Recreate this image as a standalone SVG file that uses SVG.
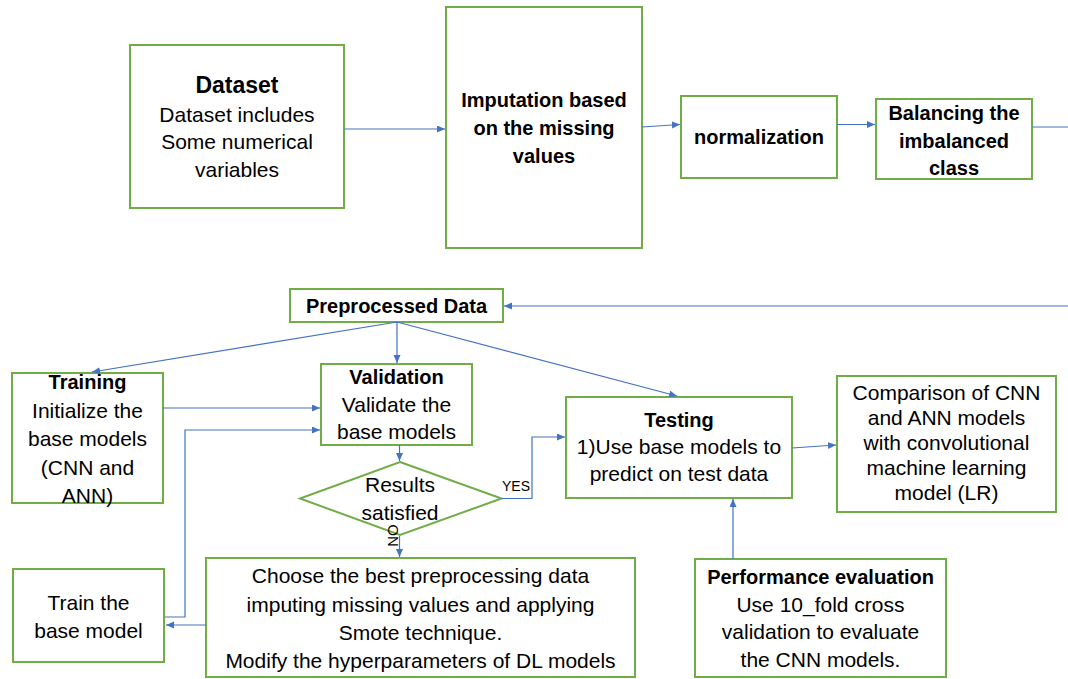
<svg xmlns="http://www.w3.org/2000/svg" width="1068" height="679" viewBox="0 0 1068 679">
<style>
.box{fill:#fff;stroke:#70AD47;stroke-width:2}
.t{font-family:"Liberation Sans",Arial,sans-serif;font-size:21px;fill:#000;text-anchor:middle}
.b{font-weight:bold;font-size:20px}
.c{fill:none;stroke:#4472C4;stroke-width:1.2}
.lbl{font-family:"Liberation Sans",Arial,sans-serif;font-size:14px;fill:#000;text-anchor:middle}
</style>
<defs>
<marker id="ah" markerWidth="9" markerHeight="8" refX="8" refY="3.5" orient="auto" markerUnits="userSpaceOnUse">
<path d="M0,0 L8,3.5 L0,7 z" fill="#4472C4"/>
</marker>
</defs>
<rect width="1068" height="679" fill="#fff"/>
<g id="dataset">
<rect class="box" x="130" y="45" width="214" height="163"/>
<text class="t b" x="237" y="93" style="font-size:23px">Dataset</text>
<text class="t" x="237" y="122">Dataset includes</text>
<text class="t" x="237" y="149">Some numerical</text>
<text class="t" x="237" y="177">variables</text>
</g>
<g id="imputation">
<rect class="box" x="446" y="7" width="196" height="241"/>
<text class="t b" x="544" y="107">Imputation based</text>
<text class="t b" x="544" y="135">on the missing</text>
<text class="t b" x="544" y="163">values</text>
</g>
<g id="normalization">
<rect class="box" x="681" y="96" width="156" height="82"/>
<text class="t b" x="759" y="144">normalization</text>
</g>
<g id="balancing">
<rect class="box" x="876" y="99" width="156" height="80"/>
<text class="t b" x="954" y="120">Balancing the</text>
<text class="t b" x="954" y="148">imbalanced</text>
<text class="t b" x="954" y="175">class</text>
</g>
<g id="preprocessed">
<rect class="box" x="290" y="289" width="213" height="33"/>
<text class="t b" x="396.5" y="313">Preprocessed Data</text>
</g>
<g id="training">
<rect class="box" x="12" y="373" width="151" height="130"/>
<text class="t b" x="87.5" y="389">Training</text>
<text class="t" x="87.5" y="418">Initialize the</text>
<text class="t" x="87.5" y="446">base models</text>
<text class="t" x="87.5" y="475">(CNN and</text>
<text class="t" x="87.5" y="503">ANN)</text>
</g>
<g id="validation">
<rect class="box" x="321" y="364" width="151" height="81"/>
<text class="t b" x="396.5" y="384">Validation</text>
<text class="t" x="396.5" y="412">Validate the</text>
<text class="t" x="396.5" y="439">base models</text>
</g>
<g id="decision">
<polygon points="400,462 501.5,498.5 400,535 300,498.5" fill="#fff" stroke="#70AD47" stroke-width="2"/>
<text class="t" x="400" y="492">Results</text>
<text class="t" x="400" y="520">satisfied</text>
</g>
<g id="testing">
<rect class="box" x="566" y="397" width="226" height="101"/>
<text class="t b" x="679" y="427">Testing</text>
<text class="t" x="679" y="454">1)Use base models to</text>
<text class="t" x="679" y="481">predict on test data</text>
</g>
<g id="comparison">
<rect class="box" x="837" y="376" width="219" height="136"/>
<text class="t" x="946.5" y="400">Comparison of CNN</text>
<text class="t" x="946.5" y="425">and ANN models</text>
<text class="t" x="946.5" y="450">with convolutional</text>
<text class="t" x="946.5" y="475">machine learning</text>
<text class="t" x="946.5" y="500">model (LR)</text>
</g>
<g id="train-base">
<rect class="box" x="13" y="569" width="151" height="93"/>
<text class="t" x="88.5" y="610">Train the</text>
<text class="t" x="88.5" y="638">base model</text>
</g>
<g id="choose">
<rect class="box" x="206" y="558" width="429" height="119"/>
<text class="t" x="420.5" y="583">Choose the best preprocessing data</text>
<text class="t" x="420.5" y="612">imputing missing values and applying</text>
<text class="t" x="420.5" y="640">Smote technique.</text>
<text class="t" x="420.5" y="668">Modify the hyperparameters of DL models</text>
</g>
<g id="performance">
<rect class="box" x="695" y="559" width="251" height="118"/>
<text class="t b" x="820.5" y="584">Performance evaluation</text>
<text class="t" x="820.5" y="612">Use 10_fold cross</text>
<text class="t" x="820.5" y="639">validation to evaluate</text>
<text class="t" x="820.5" y="667">the CNN models.</text>
</g>
<g id="connectors">
<line class="c" x1="344" y1="129" x2="445" y2="129" marker-end="url(#ah)"/>
<line class="c" x1="642" y1="127" x2="680" y2="124.5" marker-end="url(#ah)"/>
<line class="c" x1="837" y1="124.5" x2="875" y2="124.5" marker-end="url(#ah)"/>
<line class="c" x1="1032" y1="127" x2="1068" y2="127"/>
<line class="c" x1="1068" y1="306" x2="504" y2="306" marker-end="url(#ah)"/>
<line class="c" x1="397" y1="322" x2="92" y2="372" marker-end="url(#ah)"/>
<line class="c" x1="397" y1="322" x2="397" y2="363" marker-end="url(#ah)"/>
<line class="c" x1="397" y1="322" x2="677" y2="396" marker-end="url(#ah)"/>
<line class="c" x1="163" y1="408" x2="320" y2="408" marker-end="url(#ah)"/>
<polyline class="c" points="165,617 185,617 185,430 320,430" marker-end="url(#ah)"/>
<line class="c" x1="399.5" y1="445" x2="399.5" y2="461" marker-end="url(#ah)"/>
<line class="c" x1="399.5" y1="536" x2="399.5" y2="557" marker-end="url(#ah)"/>
<polyline class="c" points="501.5,498.5 532,498.5 532,437 565,437" marker-end="url(#ah)"/>
<line class="c" x1="792" y1="448" x2="836" y2="445" marker-end="url(#ah)"/>
<line class="c" x1="733" y1="559" x2="733" y2="499" marker-end="url(#ah)"/>
<line class="c" x1="206" y1="625" x2="166" y2="625" marker-end="url(#ah)"/>
<text class="lbl" x="516" y="491">YES</text>
<text class="lbl" transform="translate(398,535.5) rotate(-90)" style="font-size:15px">NO</text>
</g>
</svg>
